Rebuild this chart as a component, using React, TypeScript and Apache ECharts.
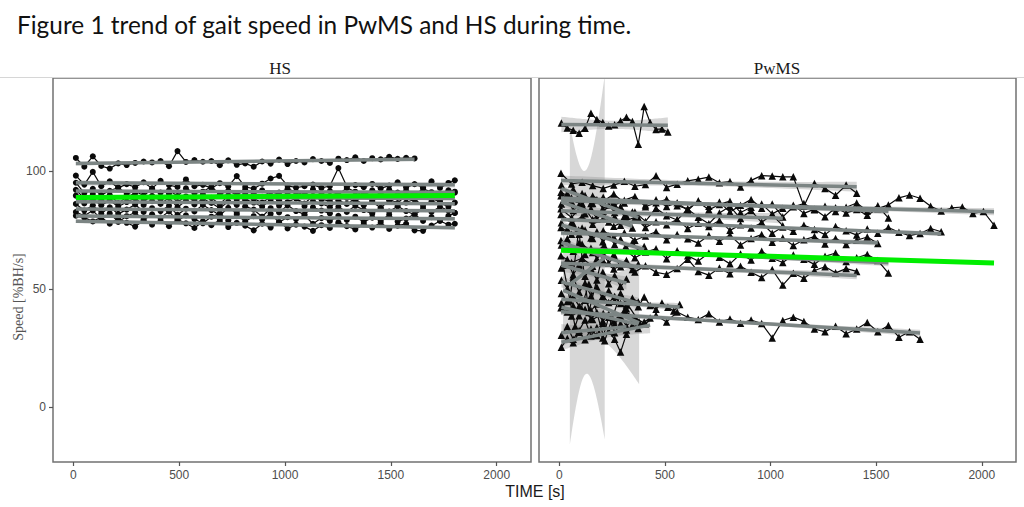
import React, { useEffect, useRef } from "react";
import * as echarts from "echarts";

// ---------- DATA ----------
const titleText = "Figure 1 trend of gait speed in PwMS and HS during time.";
const panelNames = ["HS", "PwMS"];
const xTicks = [0, 500, 1000, 1500, 2000];
const yTicks = [0, 50, 100];

// HS: shared sampling times (s)
const hsTime = [12, 52, 92, 132, 172, 212, 252, 292, 332, 372, 412, 452, 492, 532, 572, 612, 652, 692, 732, 772, 812, 852, 892, 932, 972, 1012, 1052, 1092, 1132, 1172, 1212, 1252, 1292, 1332, 1372, 1412, 1452, 1492, 1532, 1572, 1612, 1652, 1692, 1732, 1772, 1802];
const hs1 = [105.5, 101.8, 106.2, 102.1, 101.0, 103.2, 102.5, 103.4, 104.0, 103.6, 104.2, 102.0, 108.4, 103.8, 104.6, 103.9, 104.2, 102.4, 104.5, 102.6, 103.2, 101.8, 104.0, 103.1, 104.8, 102.9, 104.2, 103.6, 105.0, 104.2, 103.4, 105.2, 104.6, 105.8, 104.2, 105.4, 104.9, 106.0, 105.1, 105.6, 105.3];
const hs2 = [98.0, 94.2, 99.6, 93.5, 95.6, 92.8, 94.4, 93.1, 95.2, 92.6, 95.8, 94.0, 93.2, 96.4, 93.5, 94.1, 92.7, 94.8, 93.4, 97.8, 93.2, 92.5, 94.6, 96.8, 97.9, 93.8, 92.9, 93.5, 94.2, 92.8, 93.6, 101.2, 93.4, 94.0, 93.1, 94.5, 92.6, 93.8, 95.2, 93.0, 94.4, 93.1, 95.6, 92.8, 94.9, 96.0];
const hs3 = [95.0, 90.6, 92.4, 89.8, 91.6, 93.0, 90.2, 91.4, 89.6, 92.2, 90.8, 91.8, 89.4, 92.6, 90.6, 91.2, 93.4, 90.0, 91.6, 89.8, 92.0, 90.4, 91.8, 89.6, 90.8, 92.4, 91.0, 89.8, 92.2, 90.6, 91.4, 90.0, 92.8, 91.2, 89.6, 91.8, 90.4, 92.0, 90.8, 91.6, 89.8, 92.4, 91.0, 90.2, 91.8, 91.2];
const hs4 = [92.0, 88.4, 90.2, 87.6, 89.8, 86.4, 88.8, 90.6, 87.2, 89.4, 88.0, 90.4, 86.8, 89.2, 87.4, 90.0, 88.6, 85.8, 89.6, 87.8, 90.2, 88.2, 86.6, 89.0, 87.6, 90.8, 88.4, 86.2, 89.4, 88.0, 87.2, 89.8, 88.6, 86.8, 90.0, 87.4, 89.2, 88.0, 86.4, 89.6, 87.8, 90.4, 88.2, 87.0, 89.4, 90.8];
const hs5 = [89.5, 86.2, 88.0, 85.4, 87.6, 84.8, 86.8, 88.4, 85.6, 87.2, 86.0, 88.6, 84.6, 87.4, 85.8, 88.2, 86.4, 84.2, 87.0, 85.6, 88.0, 86.6, 84.8, 87.8, 85.2, 86.8, 88.4, 85.0, 87.2, 86.2, 84.6, 87.6, 86.0, 88.2, 85.4, 86.8, 84.4, 87.4, 85.8, 86.6, 88.0, 85.2, 87.0, 86.4, 84.8, 86.6];
const hs6 = [86.0, 83.2, 85.4, 82.0, 84.6, 81.8, 83.6, 85.8, 82.6, 84.2, 83.0, 85.2, 81.4, 84.0, 82.8, 85.6, 83.4, 81.2, 84.4, 82.2, 85.0, 83.6, 80.6, 84.2, 82.4, 85.4, 83.0, 81.6, 84.6, 83.2, 82.0, 84.8, 82.6, 85.2, 83.4, 81.8, 84.2, 82.8, 85.0, 83.0, 81.4, 84.0, 82.6, 84.8, 83.2, 82.2];
const hs7 = [82.6, 81.0, 83.2, 79.6, 82.0, 78.4, 80.8, 82.4, 79.2, 81.6, 80.2, 82.8, 78.8, 81.2, 79.6, 77.8, 80.6, 82.0, 79.0, 81.4, 78.6, 80.8, 79.4, 81.8, 78.2, 80.4, 79.6, 81.2, 77.6, 80.0, 78.8, 81.0, 79.2, 80.6, 78.4, 80.2, 79.0, 81.4, 78.6, 79.8, 81.6, 78.8, 80.4, 79.2, 81.0, 82.2];
const hs8 = [81.0, 80.2, 78.6, 80.4, 77.6, 79.8, 78.0, 76.4, 79.0, 77.2, 78.8, 76.6, 79.4, 77.8, 75.8, 78.6, 77.0, 79.2, 76.2, 78.0, 76.8, 74.8, 77.6, 76.0, 78.4, 75.6, 77.2, 76.4, 74.6, 77.0, 75.8, 78.2, 76.6, 75.2, 77.4, 76.0, 78.0, 75.4, 76.8, 77.6, 74.8, 74.6, 76.8, 78.8, 77.2, 77.6];

// PwMS: long recordings (shared times)
const pwTimeL = [8, 58, 108, 158, 208, 258, 308, 358, 408, 458, 508, 558, 608, 658, 708, 758, 808, 858, 908, 958, 1008, 1058, 1108, 1158, 1208, 1258, 1308, 1358, 1408, 1458, 1508, 1558, 1608, 1658, 1708, 1758, 1808, 1858, 1908, 1958, 2008, 2058];
const pw1 = [99.0, 94.5, 95.2, 93.8, 92.6, 94.0, 95.6, 93.5, 94.2, 98.0, 93.0, 94.4, 95.8, 96.5, 97.4, 95.0, 95.5, 93.2, 96.0, 98.0, 97.8, 97.5, 97.5, 85.0, 94.7, 92.5, 89.7, 94.0, 90.5];
const pw2 = [91.0, 88.5, 86.2, 89.4, 87.0, 90.2, 86.4, 88.0, 85.6, 87.8, 84.9, 86.5, 83.2, 87.4, 85.0, 86.8, 82.6, 85.4, 87.9, 84.2, 86.0, 80.5, 84.8, 86.2, 83.5, 85.0, 82.8, 84.6, 86.4, 83.0, 85.2, 80.0];
const pw3 = [89.5, 87.0, 90.4, 86.2, 88.8, 85.4, 87.6, 89.2, 84.8, 86.5, 88.0, 85.2, 84.0, 86.8, 83.5, 85.8, 87.2, 82.4, 84.6, 86.0, 81.8, 84.2, 85.5, 82.0, 83.8, 80.6, 84.4, 82.2, 83.6, 81.2, 84.0, 85.6, 88.6, 89.8, 88.4, 85.0, 83.0, 84.3, 84.7, 82.0, 82.8, 77.0];
const pw4 = [81.5, 78.2, 80.6, 77.4, 79.8, 76.5, 78.8, 80.2, 76.0, 78.5, 77.2, 79.4, 75.6, 77.8, 76.4, 79.0, 74.8, 77.2, 75.8, 78.0, 73.6, 76.2, 74.4, 77.0, 75.2, 73.0, 76.4, 74.6, 72.8, 75.4, 73.6, 76.0, 74.0, 72.6, 73.5, 75.6, 74.2];
const pw5 = [76.0, 73.2, 75.8, 71.4, 74.6, 72.0, 73.8, 70.6, 72.4, 74.2, 70.8, 73.0, 71.2, 69.4, 72.6, 70.2, 72.8, 68.6, 71.4, 73.0, 69.8, 71.6, 68.4, 70.8, 72.2, 69.0, 71.4, 68.8, 70.6, 72.0, 69.2];
const pw6 = [70.5, 67.2, 69.0, 65.4, 67.8, 64.6, 66.8, 63.2, 65.6, 67.0, 62.8, 66.2, 64.0, 61.8, 65.2, 63.4, 60.6, 64.8, 62.2, 66.0, 63.0, 61.2, 64.4, 62.6, 60.4, 63.8, 65.2, 61.6, 63.2, 64.6, 62.0, 56.7];
const pw7 = [64.0, 61.2, 63.0, 59.6, 61.8, 58.4, 60.6, 57.2, 59.8, 57.0, 56.2, 58.6, 62.6, 57.4, 55.8, 58.8, 56.4, 59.6, 57.0, 54.8, 58.2, 51.6, 56.6, 54.5, 57.8, 59.4, 56.8, 58.6, 57.4];
const pw8 = [42.0, 38.5, 41.2, 37.0, 39.6, 36.4, 40.8, 37.6, 35.2, 38.8, 36.0, 40.2, 38.0, 37.0, 39.4, 36.0, 37.2, 35.4, 36.8, 35.3, 29.2, 36.6, 38.0, 36.2, 33.0, 31.8, 34.2, 31.0, 33.0, 35.7, 31.8, 34.5, 29.5, 31.8, 28.6];
const pw9 = [84.0, 80.2, 85.6, 79.4, 83.0, 86.4, 80.8, 82.6, 78.6, 84.2, 81.0, 79.2, 83.8, 80.4, 77.6, 82.2, 85.0, 79.8, 83.2, 78.2, 81.4, 76.8];

// PwMS: short recordings (shared times)
const pwTimeS = [10, 38, 66, 94, 122, 150, 178, 206, 234, 262, 290, 318, 346, 374, 402, 430, 458, 486, 514, 542, 570];
const psTop = [120.3, 118.2, 117.2, 116.0, 118.1, 124.5, 121.8, 120.5, 119.0, 119.6, 121.2, 122.8, 121.0, 111.3, 127.3, 120.5, 117.6, 117.8, 116.5];
const ps1 = [94.0, 90.5, 92.2, 88.0, 89.6, 86.2, 87.8, 84.0, 85.6, 82.4, 84.8, 81.0, 82.6, 80.2];
const ps2 = [86.0, 88.4, 83.2, 85.6, 81.8, 84.0, 79.6, 82.2, 78.4, 80.6, 77.0, 79.2, 75.8];
const ps3 = [78.0, 75.4, 77.6, 73.2, 75.0, 71.6, 74.2, 70.0, 72.4, 68.8, 71.0, 67.4, 69.6, 66.2, 68.0];
const ps4 = [68.6, 71.2, 66.0, 69.4, 64.6, 67.2, 62.8, 65.4, 61.0, 63.6, 59.4, 62.0, 58.2, 60.4];
const ps5 = [58.8, 62.4, 56.0, 60.2, 55.4, 58.6, 53.8, 57.0, 52.2, 55.6, 51.0, 54.2];
const ps6 = [53.7, 50.2, 55.0, 48.6, 52.4, 47.0, 50.8, 45.6, 49.2, 44.8, 47.6, 43.2, 46.0, 44.4];
const ps7 = [48.0, 44.6, 46.8, 42.6, 45.2, 40.8, 43.6, 47.0, 44.2, 46.8, 43.8, 41.6, 44.6, 42.4, 46.6, 43.0, 41.4, 44.0, 42.2, 40.6, 43.4];
const ps8 = [44.0, 40.2, 42.8, 38.6, 41.4, 37.2, 40.0, 36.4, 39.2, 35.0, 38.4, 34.2, 37.0, 35.6];
const ps9 = [30.3, 34.0, 28.6, 32.4, 36.8, 30.0, 33.6, 29.2, 38.0, 31.4, 35.2, 32.6];
const ps10 = [25.3, 29.0, 27.2, 31.6, 28.4, 33.0, 30.2, 35.4, 32.0, 28.6, 23.2, 30.8, 34.6, 33.2, 36.0, 37.6];

// PwMS: very sparse recordings
const pwWTime = [50, 92, 140, 215];
const pwW = [45.0, 75.0, 40.0, 68.0];
const pwXTime = [18, 75, 140, 215, 290, 378];
const pwX = [60.0, 34.0, 52.0, 28.0, 48.0, 36.0];

// overall (fixed-effect) trends
const hsTrendTime = [12, 1802];
const hsTrend = [88.7, 89.6];
const pwTrendTime = [8, 2058];
const pwTrend = [66.4, 61.0];

// ---------- helpers ----------
const tTable = [0, 12.706, 4.303, 3.182, 2.776, 2.571, 2.447, 2.365, 2.306, 2.262, 2.228, 2.201, 2.179, 2.16, 2.145, 2.131, 2.12, 2.11, 2.101, 2.093, 2.086];
function tq(df: number) {
  if (df < tTable.length) return tTable[df];
  if (df <= 30) return 2.05;
  return 2.02;
}

function zip(ts: number[], vs: number[]) {
  const n = Math.min(ts.length, vs.length);
  const out: number[][] = [];
  for (let i = 0; i < n; i++) out.push([ts[i], vs[i]]);
  return out;
}

function lmFit(pts: number[][]) {
  const n = pts.length;
  let sx = 0, sy = 0;
  pts.forEach(([x, y]) => { sx += x; sy += y; });
  const mx = sx / n, my = sy / n;
  let sxx = 0, sxy = 0;
  pts.forEach(([x, y]) => { sxx += (x - mx) * (x - mx); sxy += (x - mx) * (y - my); });
  const b = sxy / sxx;
  const a = my - b * mx;
  let sse = 0;
  pts.forEach(([x, y]) => { const r = y - (a + b * x); sse += r * r; });
  const s = Math.sqrt(sse / (n - 2));
  const q = tq(n - 2);
  const t0 = pts[0][0], t1 = pts[n - 1][0];
  const up: number[][] = [], lo: number[][] = [];
  const steps = 60;
  for (let k = 0; k <= steps; k++) {
    const x = t0 + ((t1 - t0) * k) / steps;
    const se = s * Math.sqrt(1 / n + ((x - mx) * (x - mx)) / sxx);
    const yv = a + b * x;
    up.push([x, yv + q * se]);
    lo.push([x, yv - q * se]);
  }
  return {
    line: [[t0, a + b * t0], [t1, a + b * t1]],
    band: up.concat(lo.reverse()),
  };
}

const xMin = -96, xMax = 2162, yMin = -23.4, yMax = 139.4;

const hsSubjects = [hs1, hs2, hs3, hs4, hs5, hs6, hs7, hs8].map((v) => zip(hsTime, v));
const pwSubjects = [
  ...[pw1, pw2, pw3, pw4, pw5, pw6, pw7, pw8, pw9].map((v) => zip(pwTimeL, v)),
  ...[psTop, ps1, ps2, ps3, ps4, ps5, ps6, ps7, ps8, ps9, ps10].map((v) => zip(pwTimeS, v)),
  zip(pwWTime, pwW),
  zip(pwXTime, pwX),
];

function panelSeries(idx: number, subjects: number[][][], symbol: string, size: number, trend: number[][]) {
  const fits = subjects.map(lmFit);
  const bands = fits.map((f) => f.band);
  const series: any[] = [];
  series.push({
    type: "custom",
    xAxisIndex: idx,
    yAxisIndex: idx,
    clip: true,
    silent: true,
    z: 1,
    data: bands.map((b) => [b[0][0], b[0][1]]),
    encode: { x: 0, y: 1 },
    renderItem: (params: any, api: any) => {
      const b = bands[params.dataIndex];
      return {
        type: "polygon",
        shape: { points: b.map((p) => api.coord(p)) },
        style: { fill: "rgba(150,150,150,0.38)" },
      };
    },
  });
  subjects.forEach((pts) => {
    series.push({
      type: "line",
      xAxisIndex: idx,
      yAxisIndex: idx,
      data: pts,
      symbol,
      symbolSize: size,
      showSymbol: true,
      silent: true,
      z: 2,
      itemStyle: { color: "#0a0a0a", borderWidth: 0 },
      lineStyle: { color: "#0a0a0a", width: 1.2 },
    });
  });
  fits.forEach((f) => {
    series.push({
      type: "line",
      xAxisIndex: idx,
      yAxisIndex: idx,
      data: f.line,
      symbol: "none",
      silent: true,
      z: 3,
      lineStyle: { color: "#7c8584", width: 3.5 },
    });
  });
  series.push({
    type: "line",
    xAxisIndex: idx,
    yAxisIndex: idx,
    data: trend,
    symbol: "none",
    silent: true,
    z: 4,
    lineStyle: { color: "#00ee00", width: 5 },
  });
  return series;
}

const plainNum = (v: number) => String(v);

export default function App() {
  const ref = useRef<HTMLDivElement>(null);
  useEffect(() => {
    if (!ref.current) return;
    const chart = echarts.init(ref.current, null, { renderer: "svg" });
    const grids = [
      { left: 53, top: 78, width: 478, height: 384 },
      { left: 539, top: 78, width: 477, height: 384 },
    ];
    const option: any = {
      animation: false,
      backgroundColor: "#ffffff",
      grid: grids.map((g) => ({ ...g, show: true, borderColor: "#727272", borderWidth: 1.5, backgroundColor: "transparent" })),
      xAxis: [0, 1].map((i) => ({
        type: "value",
        gridIndex: i,
        min: xMin,
        max: xMax,
        axisLine: { show: false, onZero: false },
        splitLine: { show: false },
        axisTick: { show: true, length: 4, customValues: xTicks, lineStyle: { color: "#555", width: 1.2 } },
        axisLabel: { customValues: xTicks, formatter: plainNum, color: "#4d4d4d", fontSize: 12, fontFamily: "Liberation Sans", margin: 7 },
      })),
      yAxis: [0, 1].map((i) => ({
        type: "value",
        gridIndex: i,
        min: yMin,
        max: yMax,
        axisLine: { show: false, onZero: false },
        splitLine: { show: false },
        axisTick: { show: i === 0, length: 4, customValues: yTicks, lineStyle: { color: "#555", width: 1.2 } },
        axisLabel: { show: i === 0, customValues: yTicks, formatter: plainNum, color: "#4d4d4d", fontSize: 12, fontFamily: "Liberation Sans", margin: 7 },
      })),
      series: [
        ...panelSeries(0, hsSubjects, "circle", 6, zip(hsTrendTime, hsTrend)),
        ...panelSeries(1, pwSubjects, "triangle", 7.5, zip(pwTrendTime, pwTrend)),
      ],
      graphic: [
        { type: "line", shape: { x1: 0, y1: 77.5, x2: 1024, y2: 77.5 }, style: { stroke: "#d6d6d6", lineWidth: 1 }, z: 0 },
        {
          type: "text", left: 17, top: 12,
          style: { text: titleText, font: '24.4px "Lato"', fill: "#111" },
        },
        {
          type: "text", x: 280, y: 68,
          style: { text: panelNames[0], font: '17px "Liberation Serif"', fill: "#1a1a1a", textAlign: "center", textVerticalAlign: "middle" },
        },
        {
          type: "text", x: 777, y: 68,
          style: { text: panelNames[1], font: '17px "Liberation Serif"', fill: "#1a1a1a", textAlign: "center", textVerticalAlign: "middle" },
        },
        {
          type: "text", x: 535, y: 491,
          style: { text: "TIME [s]", font: '16px "Liberation Sans"', fill: "#1a1a1a", textAlign: "center", textVerticalAlign: "middle" },
        },
        {
          type: "text", x: 18, y: 297, rotation: Math.PI / 2,
          style: { text: "Speed [%BH/s]", font: '14px "Liberation Serif"', fill: "#555", textAlign: "center", textVerticalAlign: "middle" },
        },
      ],
    };
    chart.setOption(option);
    return () => chart.dispose();
  }, []);
  return <div ref={ref} style={{ position: "absolute", left: 0, top: 0, width: 1024, height: 507 }} />;
}
